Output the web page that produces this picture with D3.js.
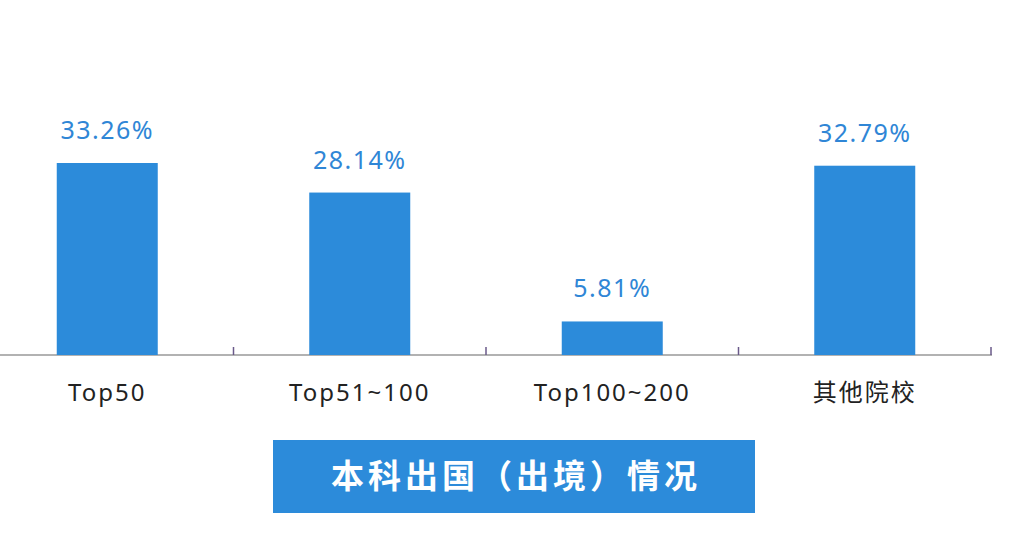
<!DOCTYPE html>
<html><head><meta charset="utf-8">
<script src="https://cdn.jsdelivr.net/npm/d3@7"></script>
<style>body{margin:0;background:#fff}</style>
</head><body>
<svg id="chart" width="1010" height="536"></svg>
<script>
const categories = ['Top50', 'Top51~100', 'Top100~200', '其他院校']
const values = [33.26, 28.14, 5.81, 32.79]
const title = '本科出国（出境）情况'

const svg = d3.select('#chart')
const base = 355
const x = d3.scaleBand().domain(categories).range([-19, 991]).paddingInner(0.6).paddingOuter(0.3)
const y = d3.scaleLinear().domain([0, 33.26]).range([base, 163])

// axis line + ticks between categories
svg.append('line').attr('x1', 0).attr('x2', 992).attr('y1', base).attr('y2', base)
  .attr('stroke', '#666').attr('stroke-width', 1.2)
const step = x.step()
categories.forEach((c, i) => {
  const bx = -19 + step * (i + 1)
  svg.append('line').attr('x1', bx).attr('x2', bx).attr('y1', base - 8).attr('y2', base)
    .attr('stroke', '#6a5a8a').attr('stroke-width', 1.5)
})

svg.selectAll('rect.bar').data(values).join('rect').attr('class', 'bar')
  .attr('x', (d, i) => x(categories[i])).attr('width', x.bandwidth())
  .attr('y', d => y(d)).attr('height', d => base - y(d)).attr('fill', '#2c8bda')

svg.selectAll('text.val').data(values).join('text').attr('class', 'val')
  .attr('x', (d, i) => x(categories[i]) + x.bandwidth() / 2).attr('y', d => y(d) - 24)
  .attr('text-anchor', 'middle').attr('font-family', 'Noto Sans, Noto Sans CJK SC')
  .attr('font-size', 25).attr('letter-spacing', 1.5).attr('fill', '#2f86d6').text(d => d.toFixed(2) + '%')

svg.selectAll('text.cat').data(categories).join('text').attr('class', 'cat')
  .attr('x', d => x(d) + x.bandwidth() / 2).attr('y', 401)
  .attr('text-anchor', 'middle').attr('font-family', 'Noto Sans, Noto Sans CJK SC')
  .attr('font-size', 24).attr('letter-spacing', 2).attr('fill', '#222').text(d => d)

svg.append('rect').attr('x', 273).attr('y', 440).attr('width', 482).attr('height', 73).attr('fill', '#2c8bda')
svg.append('text').attr('x', 516).attr('y', 488).attr('text-anchor', 'middle')
  .attr('font-family', 'Noto Sans CJK SC').attr('font-weight', 'bold').attr('font-size', 33)
  .attr('letter-spacing', 4).attr('fill', '#fff').text(title)
</script>
</body></html>
